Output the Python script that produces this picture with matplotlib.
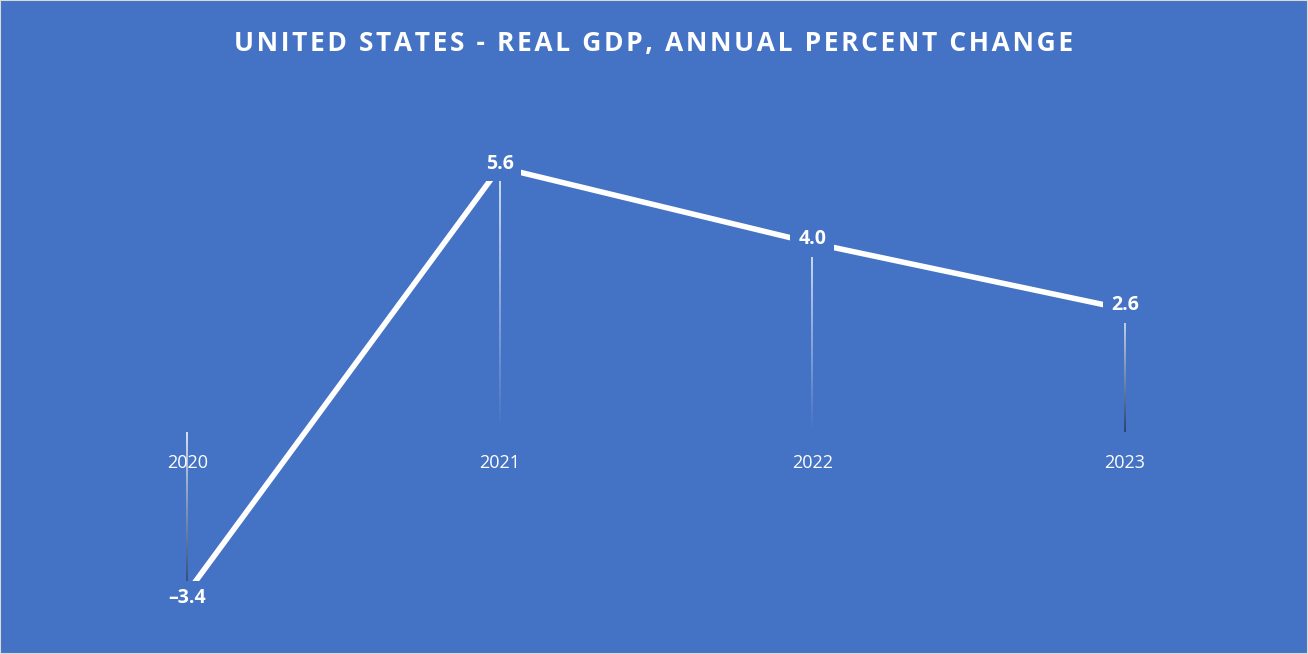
import numpy as np
import matplotlib
matplotlib.use('Agg')
import matplotlib.pyplot as plt
from matplotlib.collections import LineCollection
from matplotlib.colors import to_rgba

years = ['2020', '2021', '2022', '2023']
gdp_change = [-3.4, 5.6, 4.0, 2.6]
value_labels = ['\u20133.4', '5.6', '4.0', '2.6']
title = 'UNITED STATES - REAL GDP, ANNUAL PERCENT CHANGE'

BG = '#4472C4'
plt.rcParams['font.family'] = ['Open Sans', 'DejaVu Sans']


def gradient_line(ax, x, y0, y1, c0, c1, n=80):
    # thin vertical line fading from c0 (at y0) to c1 (at y1)
    ys = np.linspace(y0, y1, n + 1)
    segs = [[(x, ys[i]), (x, ys[i + 1])] for i in range(n)]
    a = np.array(to_rgba(c0))
    b = np.array(to_rgba(c1))
    t = np.linspace(0, 1, n)[:, None]
    cols = a * (1 - t) + b * t
    ax.add_collection(LineCollection(segs, colors=cols, linewidths=1.1, zorder=2))


fig = plt.figure(figsize=(13.08, 6.54), dpi=100)
fig.patch.set_facecolor(BG)
ax = fig.add_axes([31 / 1308, 9.4 / 654, 1250 / 1308, 567 / 654])
ax.set_facecolor(BG)
ax.set_xlim(-0.5, 3.5)
ax.set_ylim(-4.5, 7.5)
ax.axis('off')

x = np.arange(len(years))

# drop lines from the zero line to each point
for xi, v in zip(x, gdp_change):
    if v >= 0:
        end = '#203864' if xi == 3 else BG
        gradient_line(ax, xi, v, 0, '#FFFFFF', end)
    else:
        gradient_line(ax, xi, 0, v, '#FFFFFF', '#203864')

ax.plot(x, gdp_change, color='white', lw=4.0, solid_capstyle='butt', zorder=3)

for xi, v, lab in zip(x, gdp_change, value_labels):
    yoff = -0.12 if v < 0 else 0.08
    ax.text(xi, v + yoff, lab, ha='center', va='center', color='white',
            fontsize=14, fontweight='bold', zorder=5,
            bbox=dict(boxstyle='square,pad=0.4', fc=BG, ec='none'))

for xi, yr in zip(x, years):
    ax.text(xi, -0.65, yr, ha='center', va='center', color='white', fontsize=13,
            zorder=4)

# letter-spaced title
spaced = '\u200a'.join(title)
fig.text(0.5, 1 - 43 / 654, spaced, ha='center', va='center', color='white',
         fontsize=19, fontweight='bold')

fig.add_artist(plt.Rectangle((0, 0), 1, 1, transform=fig.transFigure, fill=False,
                             ec='#D9D9D9', lw=1.5))

fig.savefig('out.png', dpi=100, facecolor=BG)
